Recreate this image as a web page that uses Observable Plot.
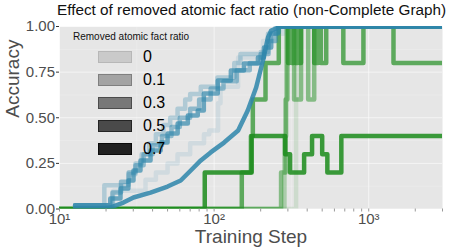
<!DOCTYPE html>
<html>
<head>
<meta charset="utf-8">
<script src="https://cdn.jsdelivr.net/npm/d3@7"></script>
<script src="https://cdn.jsdelivr.net/npm/@observablehq/plot@0.6"></script>
<style>
  html, body { margin: 0; padding: 0; background: white; }
  #wrap { position: relative; width: 449px; height: 252px; overflow: hidden; font-family: "Liberation Sans", Arial, sans-serif; }
  #title { position: absolute; left: 57px; top: 1px; font-size: 15.3px; line-height: 18px; color: #111; white-space: nowrap; }
  #chart { position: absolute; left: 0; top: 20px; }
  #legend { position: absolute; left: 0; top: 0; width: 449px; height: 252px; pointer-events: none; }
  .lt { position: absolute; font-size: 10px; line-height: 12px; color: #111; white-space: nowrap; }
  .sw { position: absolute; width: 32px; height: 10px; box-sizing: content-box; }
  .ll { position: absolute; font-size: 16px; line-height: 18px; color: #000; white-space: nowrap; }
</style>
</head>
<body>
<div id="wrap">
  <div id="title">Effect of removed atomic fact ratio (non-Complete Graph)</div>
  <div id="chart"></div>
  <div id="legend"></div>
</div>
<script>
// ---------- data ----------
const ratios = ["0", "0.1", "0.3", "0.5", "0.7"];
const xTicks = [10, 100, 1000];
const xTickLabels = ["10\u00B9", "10\u00B2", "10\u00B3"];
const yTicks = [0, 0.25, 0.5, 0.75, 1];
const yTickLabels = ["0.00", "0.25", "0.50", "0.75", "1.00"];

// blue series (one per removed ratio): [training step, accuracy]
const blue_r0 = [[12.6,0.02],[22,0.02],[22.3,0.1],[35,0.1],[36,0.16],[42,0.2],[50,0.25],[58,0.3],[70,0.36],[86,0.41],[93,0.43],[105,0.43],[106,0.58],[110,0.67],[140,0.67],[143,0.83],[200,0.85],[207,0.92],[259,0.96],[280,1],[3000,1]];
const blue_r01 = [[12.6,0.02],[19.2,0.02],[19.5,0.13],[27,0.13],[28,0.19],[31,0.25],[34,0.3],[38,0.36],[42,0.41],[47,0.46],[52,0.5],[58,0.55],[65,0.6],[70,0.63],[82,0.67],[105,0.72],[135,0.8],[148,0.85],[200,0.86],[223,0.96],[250,1],[3000,1]];
const blue_r03 = [[12.6,0.02],[21,0.02],[22,0.09],[25,0.15],[28,0.2],[31,0.24],[35,0.3],[40,0.35],[46,0.4],[53,0.45],[60,0.5],[70,0.55],[80,0.6],[95,0.66],[115,0.7],[140,0.76],[170,0.8],[200,0.85],[225,0.92],[250,0.97],[262,1],[3000,1]];
const blue_r05 = [[12.6,0.02],[20.4,0.02],[21.3,0.058],[24.8,0.112],[27.9,0.156],[30.1,0.211],[33.4,0.266],[38.8,0.321],[45.1,0.364],[50,0.414],[58.1,0.468],[67.6,0.512],[78.4,0.54],[85.8,0.633],[105.6,0.704],[128.3,0.759],[155.9,0.797],[192,0.83],[210,0.885],[234,0.962],[259,1],[3000,1]];
const blue_r07 = [[12.6,0.005],[19.8,0.005],[21.3,0.008],[25.9,0.035],[30.1,0.063],[38.8,0.09],[50,0.123],[60.8,0.156],[70.6,0.211],[82,0.266],[95,0.31],[116,0.364],[143,0.43],[165,0.54],[187,0.666],[207,0.814],[223,0.94],[234,0.978],[271,1],[3000,1]];

// green series (one per removed ratio): [training step, accuracy]
const green_r0 = [[10,0],[339,1],[3000,1]];
const green_r01 = [[10,0],[285,0.4],[293,1],[3000,1]];
const green_r03 = [[10,0],[271,0.2],[290,0.6],[298,1],[329,0.6],[365,1],[406,0.6],[444,1],[3000,1]];
const green_r05 = [[10,0],[151,0.2],[173,0.4],[178,0.6],[215,0.8],[262,1],[301,0.8],[308,1],[318,0.8],[326,1],[336,0.8],[346,1],[356,0.8],[365,1],[444,0.8],[470,1],[490,0.8],[531,1],[685,0.8],[924,1],[1446,0.8],[3000,0.8]];
const green_r07 = [[10,0],[87,0.2],[175,0.4],[288,0.3],[310,0.2],[382,0.3],[430,0.4],[500,0.3],[540,0.2],[665,0.4],[3000,0.4]];

// ---------- styles ----------
const alphas = [0.12, 0.29, 0.48, 0.68, 0.86];
const BLUE = "#2e86ab";
const GREEN = "#1c8c1c";
const LW = 4.5;

const blueSeries = [blue_r0, blue_r01, blue_r03, blue_r05, blue_r07];
const greenSeries = [green_r0, green_r01, green_r03, green_r05, green_r07];
const blueCurve = ["step-after", "step-after", "step-after", "step-after", "linear"];

const lineMarks = [];
greenSeries.forEach((s, i) => {
  lineMarks.push(Plot.line(s, {x: d => d[0], y: d => d[1], stroke: GREEN, strokeOpacity: alphas[i], strokeWidth: LW, curve: "step-after", strokeLinejoin: "round", clip: true}));
});
blueSeries.forEach((s, i) => {
  lineMarks.push(Plot.line(s, {x: d => d[0], y: d => d[1], stroke: BLUE, strokeOpacity: alphas[i], strokeWidth: LW, curve: blueCurve[i], strokeLinejoin: "round", clip: true}));
});

const yMinor = [0.125, 0.375, 0.625, 0.875];
const xMinorGrid = [Math.pow(10, 1.5), Math.pow(10, 2.5)];
const xMinorTicks = [];
for (const p of [10, 100, 1000]) for (let k = 2; k <= 9; k++) if (p * k <= 3000) xMinorTicks.push(p * k);
const xLabelOf = new Map(xTicks.map((t, i) => [t, xTickLabels[i]]));
const yLabelOf = new Map(yTicks.map((t, i) => [t, yTickLabels[i]]));

const FF = '"Liberation Sans", Arial, sans-serif';
const chart = Plot.plot({
  width: 449,
  height: 232,
  marginLeft: 59,
  marginRight: 7,
  marginTop: 6,
  marginBottom: 43.5,
  style: {fontFamily: FF, background: "transparent", color: "#4d4d4d", overflow: "visible"},
  x: {type: "log", domain: [10, 3000]},
  y: {domain: [0, 1]},
  marks: [
    Plot.frame({fill: "#e6e6e6", stroke: null}),
    Plot.gridY(yMinor, {stroke: "white", strokeOpacity: 0.35, strokeWidth: 0.6}),
    Plot.gridY(yTicks, {stroke: "white", strokeOpacity: 0.6, strokeWidth: 1}),
    Plot.gridX(xMinorGrid, {stroke: "white", strokeOpacity: 0.35, strokeWidth: 0.6}),
    Plot.gridX(xTicks, {stroke: "white", strokeOpacity: 0.6, strokeWidth: 1}),
    ...lineMarks,
    Plot.axisY(yTicks, {tickSize: 3, tickPadding: 1.5, fontSize: 15, tickFormat: d => yLabelOf.get(d), stroke: "#333", label: null}),
    Plot.axisX(xMinorTicks, {tickSize: 3, text: null, stroke: "#999", label: null}),
    Plot.axisX(xTicks, {tickSize: 3, tickPadding: 1.5, fontSize: 15, tickFormat: d => xLabelOf.get(d), stroke: "#999", fill: "#4d4d4d", label: null}),
    Plot.text(["Training Step"], {frameAnchor: "bottom", dy: 34, fontSize: 19, fill: "#4d4d4d"}),
    Plot.text(["Accuracy"], {frameAnchor: "left", dx: -47, rotate: -90, fontSize: 19, fill: "#4d4d4d"})
  ]
});
document.getElementById("chart").appendChild(chart);

// ---------- legend (inside panel, top-left) ----------
const leg = document.getElementById("legend");
const lt = document.createElement("div");
lt.className = "lt";
lt.textContent = "Removed atomic fact ratio";
lt.style.left = "73px";
lt.style.top = "31px";
leg.appendChild(lt);
const rowY = [57, 80, 103, 126, 149];
ratios.forEach((r, i) => {
  const sw = document.createElement("div");
  sw.className = "sw";
  sw.style.left = "98px";
  sw.style.top = (rowY[i] - 6) + "px";
  sw.style.background = `rgba(0,0,0,${alphas[i]})`;
  sw.style.border = `1px solid rgba(0,0,0,${alphas[i] * 0.75})`;
  leg.appendChild(sw);
  const ll = document.createElement("div");
  ll.className = "ll";
  ll.textContent = r;
  ll.style.left = "143px";
  ll.style.top = (rowY[i] - 9) + "px";
  leg.appendChild(ll);
});
</script>
</body>
</html>
